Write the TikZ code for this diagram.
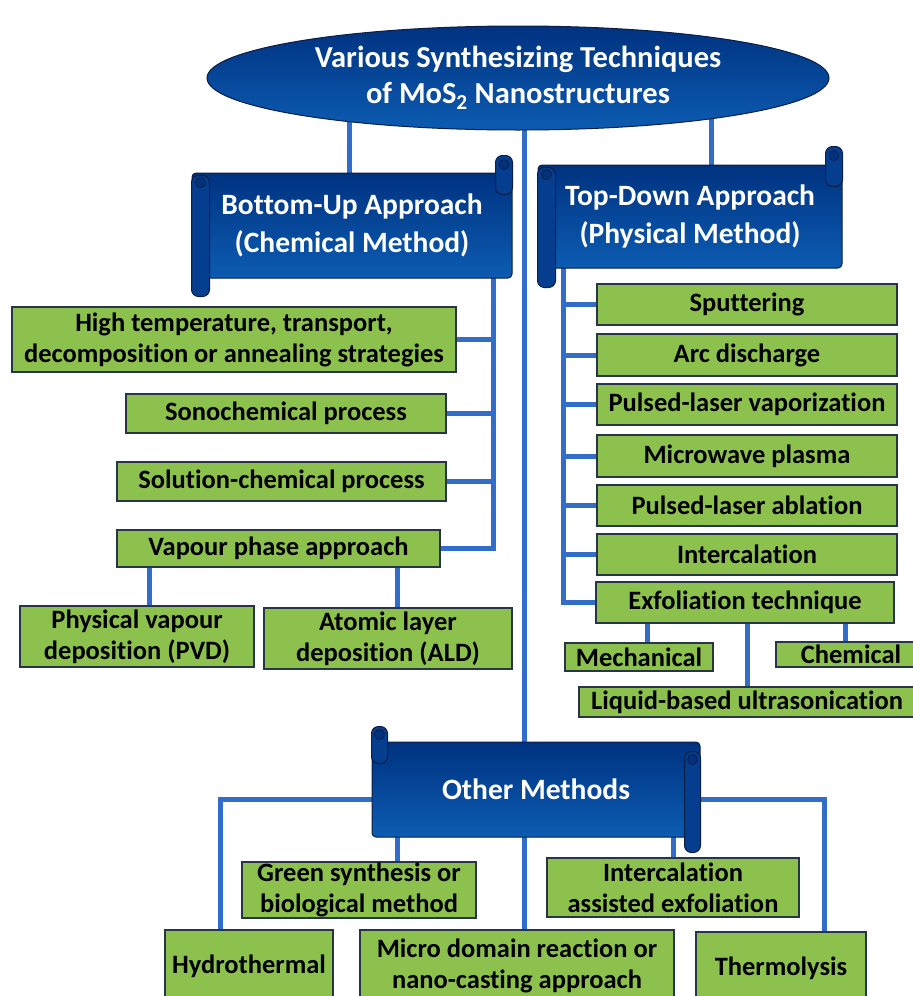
\documentclass[tikz,border=0pt]{standalone}
\usepackage{fontspec}
\setmainfont{Carlito}[Ligatures=NoCommon]
\usetikzlibrary{shapes.geometric,backgrounds}

\definecolor{linkblue}{RGB}{50,110,200}
\definecolor{itemgreen}{RGB}{141,193,78}
\definecolor{itemedge}{RGB}{40,52,72}
\definecolor{bandark}{RGB}{0,50,128}
\definecolor{banlight}{RGB}{12,92,178}
\definecolor{banedge}{RGB}{10,30,70}
\definecolor{rollblue}{RGB}{5,62,142}

\begin{document}
\begin{tikzpicture}[x=1pt, y=-1pt,
    link/.style={draw=linkblue, line width=5pt},
    item/.style={draw=itemedge, fill=itemgreen, line width=1.2pt, align=center,
        inner sep=0pt, font=\bfseries\fontsize{26.5}{31}\selectfont},
    banner/.style={draw=banedge, line width=1pt, top color=bandark, bottom color=banlight,
        rounded corners=4pt, text=white, align=center, inner sep=0pt,
        font=\bfseries\fontsize{29.5}{38}\selectfont},
    roll/.style={draw=banedge, line width=1pt, fill=rollblue, rounded corners=7pt},
    curl/.style={draw=banedge, line width=0.8pt, fill=bandark}]
    \useasboundingbox (0,0) rectangle (913,996);

    % title
    \node[ellipse, draw=banedge, line width=1pt, top color=bandark, bottom color=banlight,
        text=white, align=center, inner sep=0pt, minimum width=622pt, minimum height=104pt,
        font=\bfseries\fontsize{30.5}{36}\selectfont] (title) at (518,78)
        {Various Synthesizing Techniques\\of MoS\textsubscript{2} Nanostructures};

    % banners
    \node[banner, minimum width=320pt, minimum height=105pt] (bu) at (352,225.5)
        {Bottom-Up Approach\\(Chemical Method)};
    \draw[roll] ([yshift=-3pt]bu.north west) rectangle ([xshift=18pt,yshift=-18pt]bu.south west);
    \draw[curl] ([xshift=9pt,yshift=-10pt]bu.north west) circle (5pt);
    \draw[roll] ([xshift=-17pt,yshift=17pt]bu.north east) rectangle ([yshift=-22pt]bu.north east);
    \draw[curl] ([xshift=-8.5pt,yshift=8pt]bu.north east) circle (5pt);

    \node[banner, minimum width=304pt, minimum height=103pt] (td) at (690,216.5)
        {Top-Down Approach\\(Physical Method)};
    \draw[roll] ([yshift=-3pt]td.north west) rectangle ([xshift=18pt,yshift=-19pt]td.south west);
    \draw[curl] ([xshift=9pt,yshift=-10pt]td.north west) circle (5pt);
    \draw[roll] ([xshift=-17pt,yshift=18pt]td.north east) rectangle ([yshift=-22pt]td.north east);
    \draw[curl] ([xshift=-8.5pt,yshift=9pt]td.north east) circle (5pt);

    \node[banner, minimum width=328pt, minimum height=95pt] (om) at (536,789.5) {Other Methods};
    \draw[roll] ([yshift=15pt]om.north west) rectangle ([xshift=16pt,yshift=-22pt]om.north west);
    \draw[curl] ([xshift=8pt,yshift=7pt]om.north west) circle (5pt);
    \draw[roll] ([xshift=-16pt,yshift=-10pt]om.north east) rectangle ([yshift=-15pt]om.south east);
    \draw[curl] ([xshift=-8pt,yshift=-18pt]om.north east) circle (5pt);

    % bottom-up items
    \node[item, minimum width=444pt, minimum height=65pt] (hightemp) at (234,339.5)
        {High temperature, transport,\\decomposition or annealing strategies};
    \node[item, minimum width=320pt, minimum height=39pt] (sono) at (286,413.5) {Sonochemical process};
    \node[item, minimum width=329pt, minimum height=39pt] (solution) at (281.5,481.5) {Solution-chemical process};
    \node[item, minimum width=323pt, minimum height=37pt] (vapour) at (278.5,548.5) {Vapour phase approach};
    \node[item, minimum width=234pt, minimum height=61pt] (pvd) at (137,636.5)
        {Physical vapour\\deposition (PVD)};
    \node[item, minimum width=248pt, minimum height=61pt] (ald) at (388,638.5)
        {Atomic layer\\deposition (ALD)};

    % top-down items
    \node[item, minimum width=300pt, minimum height=41pt] (sputter) at (747,304.5) {Sputtering};
    \node[item, minimum width=300pt, minimum height=42pt] (arc) at (747,355) {Arc discharge};
    \node[item, minimum width=300pt, minimum height=41pt] (pulsedvap) at (747,404.5) {Pulsed-laser vaporization};
    \node[item, minimum width=300pt, minimum height=42pt] (microwave) at (747,456) {Microwave plasma};
    \node[item, minimum width=300pt, minimum height=41pt] (pulsedabl) at (747,505.5) {Pulsed-laser ablation};
    \node[item, minimum width=300pt, minimum height=41pt] (intercal) at (747,554.5) {Intercalation};
    \node[item, minimum width=298pt, minimum height=41pt] (exfol) at (745,602.5) {Exfoliation technique};
    \node[item, minimum width=148pt, minimum height=28pt] (mech) at (639,657) {Mechanical};
    \node[item, minimum width=150pt, minimum height=25pt] (chem) at (851,654.5) {Chemical};
    \node[item, minimum width=336pt, minimum height=30pt] (liquid) at (747,702) {Liquid-based ultrasonication};

    % other methods items
    \node[item, minimum width=234pt, minimum height=56pt] (green) at (359,890)
        {Green synthesis or\\biological method};
    \node[item, minimum width=252pt, minimum height=59pt] (interassist) at (673,887.5)
        {Intercalation\\assisted exfoliation};
    \node[item, minimum width=168pt, minimum height=72pt] (hydro) at (249,966) {Hydrothermal};
    \node[item, minimum width=314pt, minimum height=72pt] (micro) at (517,966)
        {Micro domain reaction or\\nano-casting approach};
    \node[item, minimum width=170pt, minimum height=72pt] (thermo) at (781,968) {Thermolysis};

    % connectors
    \begin{scope}[on background layer]
        \fill[white] (0,0) rectangle (913,996);
        \draw[link] ([xshift=-3pt]bu.north) -- ([xshift=-3pt]bu.north |- title.center);
        \draw[link] ([xshift=21pt]td.north) -- ([xshift=21pt]td.north |- title.center);
        \draw[link] ([xshift=6pt]title.center) -- ([xshift=6pt]title.center |- micro.north);

        \coordinate (buspine) at ([xshift=141pt]bu.center);
        \draw[link] (buspine) |- (vapour.east);
        \foreach \n in {hightemp,sono,solution}
            \draw[link] (\n.east) -- (\n.east -| buspine);
        \draw[link] ([xshift=12pt]pvd.north) -- ([xshift=12pt]pvd.north |- vapour.south);
        \draw[link] ([xshift=9pt]ald.north) -- ([xshift=9pt]ald.north |- vapour.south);

        \coordinate (tdspine) at ([xshift=-127pt]td.center);
        \draw[link] (tdspine) |- (exfol.west);
        \foreach \n in {sputter,arc,pulsedvap,microwave,pulsedabl,intercal}
            \draw[link] (\n.west) -- (\n.west -| tdspine);
        \draw[link] ([xshift=8pt]mech.north) -- ([xshift=8pt]mech.north |- exfol.south);
        \draw[link] ([xshift=-6pt]chem.north) -- ([xshift=-6pt]chem.north |- exfol.south);
        \draw[link] (liquid.north) -- (liquid.north |- exfol.south);

        \draw[link] ([xshift=-29pt]hydro.north) |- ([yshift=-10pt]om.center) -| ([xshift=43pt]thermo.north);
        \draw[link] ([xshift=38pt]green.north) -- ([xshift=38pt]green.north |- om.center);
        \draw[link] (interassist.north) -- (interassist.north |- om.center);
    \end{scope}
\end{tikzpicture}
\end{document}
